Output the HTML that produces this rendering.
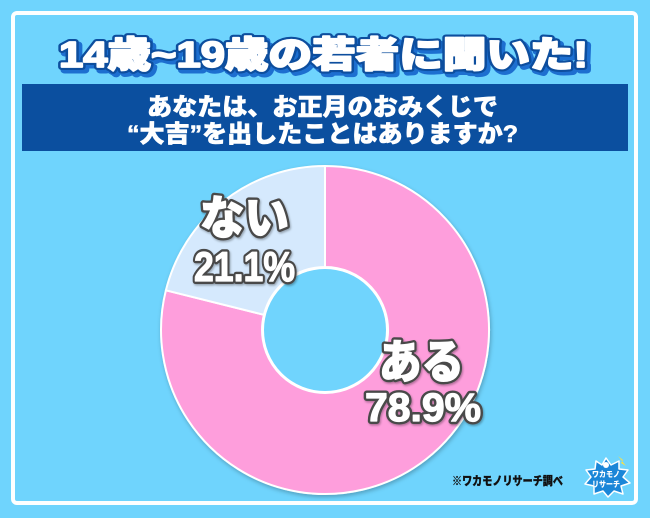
<!DOCTYPE html>
<html><head><meta charset="utf-8"><style>
html,body{margin:0;padding:0;background:#6fd4fd;}
svg{display:block;}
text{font-family:"Liberation Sans","Noto Sans CJK JP",sans-serif;font-weight:900;}
</style></head><body>
<svg width="650" height="518" viewBox="0 0 650 518" xmlns="http://www.w3.org/2000/svg">
<defs>
<filter id="sh" x="-20%" y="-20%" width="140%" height="140%"><feDropShadow dx="1" dy="2" stdDeviation="2" flood-color="#000" flood-opacity="0.25"/></filter>
<filter id="ish"><feOffset dx="2" dy="2"/><feGaussianBlur stdDeviation="2"/><feComposite operator="out" in="SourceGraphic"/><feComponentTransfer><feFuncA type="linear" slope="0.35"/></feComponentTransfer><feBlend in2="SourceGraphic" in="SourceGraphic"/></filter>
<filter id="ts"><feDropShadow dx="1" dy="1.5" stdDeviation="1" flood-color="#000" flood-opacity="0.3"/></filter>
</defs>
<rect x="0" y="0" width="650" height="518" fill="#6fd4fd"/>
<rect x="13" y="13" width="623" height="490" rx="4" fill="#6fd4fd" stroke="#ffffff" stroke-width="4"/>
<!-- title -->
<text x="62" y="70" font-size="36" textLength="529" lengthAdjust="spacingAndGlyphs" fill="#1d6fd0" stroke="#1d6fd0" stroke-width="7" stroke-linejoin="round">14歳~19歳の若者に聞いた!</text>
<text x="59" y="67" font-size="36" textLength="529" lengthAdjust="spacingAndGlyphs" fill="#0d4e9e" stroke="#0d4e9e" stroke-width="6" stroke-linejoin="round">14歳~19歳の若者に聞いた!</text>
<text x="59" y="67" font-size="36" textLength="529" lengthAdjust="spacingAndGlyphs" fill="#ffffff" stroke="#ffffff" stroke-width="1.8" stroke-linejoin="round">14歳~19歳の若者に聞いた!</text>
<!-- question box -->
<rect x="22" y="84" width="606" height="67" fill="#0b4f9f"/>
<g fill="#ffffff" stroke="#ffffff" stroke-width="0.6" stroke-linejoin="round">
<text x="147" y="115" font-size="24" textLength="351" lengthAdjust="spacingAndGlyphs">あなたは、お正月のおみくじで</text>
<text x="127" y="142" font-size="24" textLength="391" lengthAdjust="spacingAndGlyphs">“大吉”を出したことはありますか?</text>
</g>
<!-- donut -->
<g filter="url(#sh)">
<path d="M325,166 A164,164 0 1 1 165.9,290.3 L263.9,314.8 A63,63 0 1 0 325,267 Z" fill="#fe9edc" stroke="#ffffff" stroke-width="2" stroke-linejoin="round"/>
<path d="M325,166 L325,267 A63,63 0 0 0 263.9,314.8 L165.9,290.3 A164,164 0 0 1 325,166 Z" fill="#d5e9fd" stroke="#ffffff" stroke-width="2" stroke-linejoin="round"/>
</g>
<circle cx="325" cy="330" r="62" fill="#6fd4fd" filter="url(#ish)"/>
<circle cx="325" cy="330" r="62" fill="none" stroke="#ffffff" stroke-width="2"/>
<!-- labels -->
<g filter="url(#ts)" stroke="#4a4a4a" stroke-width="6" stroke-linejoin="round" fill="#4a4a4a">
<text x="200" y="234" font-size="46" textLength="89" lengthAdjust="spacingAndGlyphs">ない</text>
<text x="194" y="281" font-size="42" textLength="101" lengthAdjust="spacingAndGlyphs">21.1%</text>
<text x="379" y="378" font-size="46" textLength="85" lengthAdjust="spacingAndGlyphs">ある</text>
<text x="365" y="421" font-size="40" textLength="116" lengthAdjust="spacingAndGlyphs">78.9%</text>
</g>
<g stroke="#ffffff" stroke-width="1.2" stroke-linejoin="round" fill="#ffffff">
<text x="200" y="234" font-size="46" textLength="89" lengthAdjust="spacingAndGlyphs">ない</text>
<text x="194" y="281" font-size="42" textLength="101" lengthAdjust="spacingAndGlyphs">21.1%</text>
<text x="379" y="378" font-size="46" textLength="85" lengthAdjust="spacingAndGlyphs">ある</text>
<text x="365" y="421" font-size="40" textLength="116" lengthAdjust="spacingAndGlyphs">78.9%</text>
</g>
<!-- footer -->
<text x="452" y="485" font-size="12" textLength="111" lengthAdjust="spacingAndGlyphs" fill="#111111" stroke="#111111" stroke-width="0.3">※ワカモノリサーチ調べ</text>
<!-- logo -->
<g>
<polygon points="606,458 611,465 619,461 619,469 628,470 623,477 630,483 621,486 623,494 614,491 608,497 603,491 594,494 594,486 585,484 591,477 586,470 595,469 596,461 602,465" fill="#1a86d8" stroke="#ffffff" stroke-width="1.5" stroke-linejoin="round"/>
<polygon points="618,456 623,460 621,463 626,466" fill="#f5e04a"/>
<circle cx="606" cy="465" r="3" fill="#ffffff"/>
<text x="592" y="477" font-size="8" textLength="28" lengthAdjust="spacingAndGlyphs" fill="#ffffff">ワカモノ</text>
<text x="592" y="487" font-size="8" textLength="28" lengthAdjust="spacingAndGlyphs" fill="#ffffff">リサーチ</text>
</g>
</svg>
</body></html>
